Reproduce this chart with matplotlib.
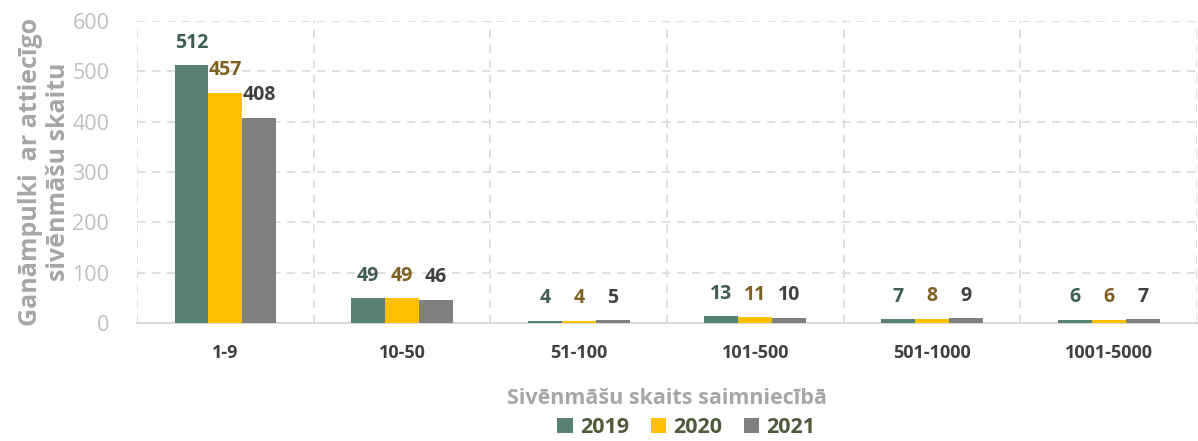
import numpy as np
import matplotlib
matplotlib.use("Agg")
import matplotlib.pyplot as plt

# Data
categories = ["1-9", "10-50", "51-100", "101-500", "501-1000", "1001-5000"]
years = ["2019", "2020", "2021"]
values_2019 = [512, 49, 4, 13, 7, 6]
values_2020 = [457, 49, 4, 11, 8, 6]
values_2021 = [408, 46, 5, 10, 9, 7]

bar_colors = ["#588075", "#FFC000", "#808080"]
label_colors = ["#3E5E53", "#7F6020", "#404040"]

plt.rcParams["font.family"] = ["Open Sans", "DejaVu Sans"]

fig = plt.figure(figsize=(11.98, 4.41), dpi=100)
ax = fig.add_axes([0.1144, 0.2676, 0.8848, 0.6848])

x = np.arange(len(categories))
width = 0.192
series = [values_2019, values_2020, values_2021]

for i, vals in enumerate(series):
    pos = x + (i - 1) * width
    ax.bar(pos, vals, width=width, color=bar_colors[i], label=years[i], zorder=3)
    for xp, v in zip(pos, vals):
        ax.annotate(str(v), (xp, v), xytext=(0, 9), textcoords="offset points",
                    ha="center", va="bottom", fontsize=14, fontweight="bold",
                    color=label_colors[i])

ax.set_xlim(-0.5, len(categories) - 0.5)
ax.set_ylim(0, 600)
ax.set_yticks(range(0, 601, 100))

# gridlines: horizontal dashed, vertical dashed at category borders
ax.yaxis.grid(True, linestyle=(0, (5, 4)), color="#D9D9D9", linewidth=1.2, zorder=0)
for b in np.arange(-0.5, len(categories), 1.0):
    ax.axvline(b, linestyle=(0, (5, 4)), color="#D9D9D9", linewidth=1.2, zorder=0)

for s in ["top", "right", "left"]:
    ax.spines[s].set_visible(False)
ax.spines["bottom"].set_color("#D9D9D9")
ax.spines["bottom"].set_linewidth(1.5)

ax.set_xticks(x)
ax.set_xticklabels(categories, fontsize=13, fontweight="bold", color="#404040")
ax.tick_params(axis="x", length=0, pad=15)
ax.tick_params(axis="y", length=0, labelsize=15.5, labelcolor="#BFBFBF", pad=20)

ax.set_xlabel("Sivēnmāšu skaits saimniecībā", fontsize=15.5, fontweight="bold",
              color="#A6A6A6", labelpad=19)
ax.set_ylabel("Ganāmpulki  ar attiecīgo\nsivēnmāšu skaitu", fontsize=18,
              fontweight="bold", color="#A6A6A6", labelpad=1, linespacing=1.15)

leg = fig.legend(loc="lower center", bbox_to_anchor=(0.573, -0.038), ncol=3,
                 frameon=False, handlelength=0.7, handleheight=0.7,
                 handletextpad=0.35, columnspacing=1.0,
                 prop={"weight": "bold", "size": 15.5})
for t in leg.get_texts():
    t.set_color("#4F5A3A")

fig.savefig("out.png", dpi=100)
